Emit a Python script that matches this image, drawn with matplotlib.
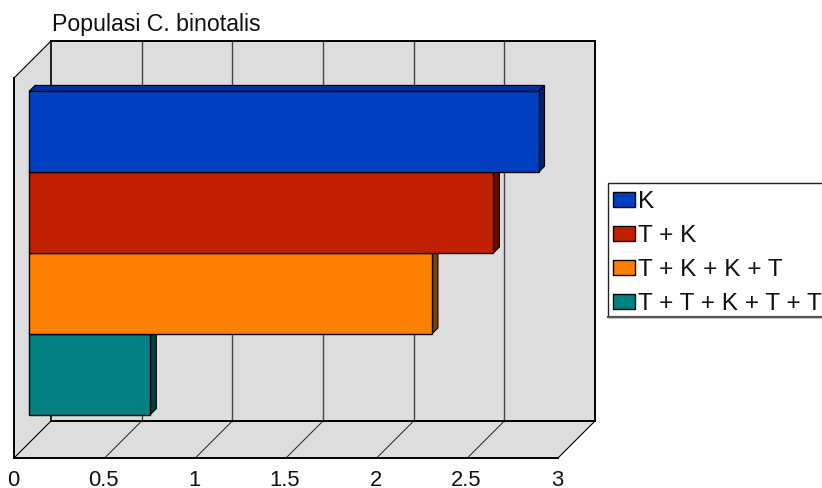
"""
Populasi C. binotalis - old spreadsheet style 3D horizontal bars
"""

import matplotlib.pyplot as plt
from matplotlib.patches import Polygon, Rectangle
from matplotlib.transforms import Affine2D

plt.rcParams["font.family"] = ["Liberation Sans", "DejaVu Sans"]

title = "Populasi C. binotalis"
categories = ["K", "T + K", "T + K + K + T", "T + T + K + T + T"]
values = [2.81, 2.561, 2.222, 0.669]
front_colors = ["#0040C0", "#C02000", "#FF8000", "#008080"]
top_colors = ["#0030A0", "#A01800", "#D06800", "#006868"]
side_colors = ["#002070", "#601000", "#804000", "#004040"]
ticks = [0, 0.5, 1, 1.5, 2, 2.5, 3]
tick_labels = ["0", "0.5", "1", "1.5", "2", "2.5", "3"]

W, H = 822, 488
WALL_DEPTH = 37
BAR_PLANE = 15
BAR_DEPTH = 6

fig = plt.figure(figsize=(W / 100, H / 100), dpi=100)
fig.patch.set_facecolor("white")

# front plane of the box, the depth is added in pixels on top of it
ax = fig.add_axes([14 / W, (H - 458) / H, 544 / W, 380 / H])
ax.set_xlim(0, 3)
margin = 28.4 / 80.8
ax.set_ylim(3.5 + margin, -0.5 - margin)
ax.patch.set_visible(False)
for spine in ax.spines.values():
    spine.set_visible(False)
ax.set_yticks([])
ax.set_xticks(ticks)
ax.set_xticklabels(tick_labels, fontsize=15.8, color="#111111")
ax.tick_params(axis="x", length=0, pad=8.3)
for label in ax.get_xticklabels():
    label.set_transform(label.get_transform() + Affine2D().translate(-1, 0))


def pt(v, y, d=0):
    # data value + depth in pixels -> display coords
    px, py = ax.transData.transform((v, y))
    return (px + d, py + d)


def poly(points, **kw):
    p = Polygon(points, closed=True, transform=None, clip_on=False, **kw)
    ax.add_patch(p)
    return p


def line(a, b, color="black", lw=1.0, z=2):
    ax.plot([a[0], b[0]], [a[1], b[1]], color=color, lw=lw, transform=None,
            clip_on=False, zorder=z, solid_capstyle="projecting")


y_top, y_bot = ax.get_ylim()[1], ax.get_ylim()[0]
wall = "#DDDDDD"

# walls and floor
poly([pt(0, y_top, WALL_DEPTH), pt(3, y_top, WALL_DEPTH), pt(3, y_bot, WALL_DEPTH), pt(0, y_bot, WALL_DEPTH)],
     facecolor=wall, edgecolor="none", zorder=1)
poly([pt(0, y_top), pt(0, y_top, WALL_DEPTH), pt(0, y_bot, WALL_DEPTH), pt(0, y_bot)],
     facecolor=wall, edgecolor="none", zorder=1)
poly([pt(0, y_bot), pt(3, y_bot), pt(3, y_bot, WALL_DEPTH), pt(0, y_bot, WALL_DEPTH)],
     facecolor=wall, edgecolor="none", zorder=1)

# grid on back wall and floor
for t in ticks[1:-1]:
    line(pt(t, y_top, WALL_DEPTH), pt(t, y_bot, WALL_DEPTH), color="#444444", lw=1.0)
    line(pt(t, y_bot), pt(t, y_bot, WALL_DEPTH), color="#222222", lw=0.7)

# box outline
line(pt(0, y_top, WALL_DEPTH), pt(3, y_top, WALL_DEPTH), lw=1.4, z=3)
line(pt(3, y_top, WALL_DEPTH), pt(3, y_bot, WALL_DEPTH), lw=1.4, z=3)
line(pt(0, y_bot, WALL_DEPTH), pt(3, y_bot, WALL_DEPTH), lw=1.4, z=3)
line(pt(0, y_top, WALL_DEPTH), pt(0, y_bot, WALL_DEPTH), lw=1.2, z=3)
line(pt(0, y_top), pt(0, y_bot), lw=1.4, z=3)
line(pt(0, y_bot), pt(3, y_bot), lw=1.4, z=3)
line(pt(0, y_top), pt(0, y_top, WALL_DEPTH), lw=0.8, z=3)
line(pt(0, y_bot), pt(0, y_bot, WALL_DEPTH), lw=0.8, z=3)
line(pt(3, y_bot), pt(3, y_bot, WALL_DEPTH), lw=0.8, z=3)

# bars, front face shifted to the bar plane
pos = list(range(len(values)))
bars = ax.barh(pos, values, height=1.0, color=front_colors, edgecolor="black", linewidth=1.0,
               label="_nolegend_")
shift = ax.transData + Affine2D().translate(BAR_PLANE, BAR_PLANE)
n = len(values)
for i, b in enumerate(bars):
    b.set_transform(shift)
    b.set_clip_on(False)
    b.set_zorder(10 + (n - i) * 2)
    b.set_label(categories[i])
    v = values[i]
    t0, t1 = i - 0.5, i + 0.5
    z = 9 + (n - i) * 2
    d0, d1 = BAR_PLANE, BAR_PLANE + BAR_DEPTH
    poly([pt(0, t0, d0), pt(v, t0, d0), pt(v, t0, d1), pt(0, t0, d1)],
         facecolor=top_colors[i], edgecolor="black", linewidth=0.8, zorder=z)
    poly([pt(v, t0, d0), pt(v, t1, d0), pt(v, t1, d1), pt(v, t0, d1)],
         facecolor=side_colors[i], edgecolor="black", linewidth=0.8, zorder=z)

fig.text(52 / W, (H - 31) / H, title, fontsize=16.65, color="#111111", ha="left", va="baseline")

# legend box runs past the right edge of the picture
fig.add_artist(Rectangle((607.5 / W, (H - 317) / H), 230 / W, 134 / H, transform=fig.transFigure,
                         facecolor="white", edgecolor="#222222", linewidth=1.0, zorder=1))
fig.add_artist(plt.Line2D([607.5 / W, 1], [(H - 317) / H] * 2, transform=fig.transFigure,
                          color="#555555", linewidth=1.6, zorder=2))

leg = fig.legend(
    handles=list(bars),
    labels=categories,
    loc="upper left",
    bbox_to_anchor=(613 / W, (H - 191.5) / H),
    fontsize=17.6,
    frameon=False,
    borderaxespad=0,
    borderpad=0,
    labelspacing=0.48,
    handlelength=0.9,
    handleheight=0.57,
    handletextpad=0.12,
)
for text in leg.get_texts():
    text.set_color("#111111")

plt.savefig("out.png", dpi=100)
